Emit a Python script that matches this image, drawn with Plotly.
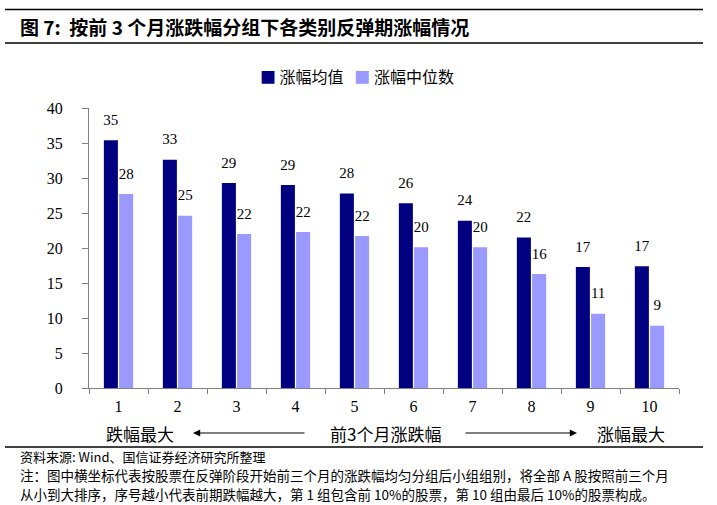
import plotly.graph_objects as go

categories = ["1", "2", "3", "4", "5", "6", "7", "8", "9", "10"]
mean_vals = [35.4, 32.6, 29.3, 29.0, 27.8, 26.4, 23.9, 21.5, 17.3, 17.4]
median_vals = [27.7, 24.6, 22.0, 22.3, 21.7, 20.1, 20.1, 16.3, 10.6, 8.9]
series_names = ["涨幅均值", "涨幅中位数"]
colors = ["#000080", "#9999FF"]
yticks = [0, 5, 10, 15, 20, 25, 30, 35, 40]

SERIF = "Liberation Serif, Times New Roman, serif"
CJK = "Noto Sans CJK SC, sans-serif"

fig = go.Figure()
for name, vals, col, grp in [(series_names[0], mean_vals, colors[0], "a"),
                             (series_names[1], median_vals, colors[1], "b")]:
    fig.add_trace(go.Bar(
        x=categories, y=vals, name=name, marker=dict(color=col, line=dict(width=0)),
        offsetgroup=grp, alignmentgroup="g", hoverinfo="skip", showlegend=False,
    ))
for vals, grp in [(mean_vals, "a"), (median_vals, "b")]:
    fig.add_trace(go.Scatter(
        x=categories, y=vals, mode="markers+text",
        text=[f"{v:.0f}" for v in vals], textposition="top center",
        textfont=dict(family=SERIF, size=15, color="#000000"),
        marker=dict(size=17, color="rgba(0,0,0,0)"),
        offsetgroup=grp, alignmentgroup="g", hoverinfo="skip", showlegend=False,
        cliponaxis=False,
    ))

L, R, T, B = 89, 38, 108, 117
W, H = 717, 505
pw, ph = W - L - R, H - T - B

def px(x):
    return (x - L) / pw

def py(y):
    return (H - B - y) / ph

fig.update_layout(
    width=W, height=H,
    margin=dict(l=L, r=R, t=T, b=B, pad=0),
    paper_bgcolor="white", plot_bgcolor="white",
    barmode="group", bargap=0.483, bargroupgap=0.08,
    scattermode="group", scattergap=0.483,
    xaxis=dict(
        type="category", showgrid=False, showline=True, linecolor="#808080", linewidth=1,
        ticks="outside", tickson="boundaries", ticklen=5, tickcolor="#808080",
        tickfont=dict(family=SERIF, size=16, color="#000000"), ticklabelstandoff=4,
    ),
    yaxis=dict(
        range=[0, 40], tickvals=yticks, showgrid=False, showline=True,
        linecolor="#808080", linewidth=1, ticks="outside", ticklen=6, tickcolor="#808080",
        tickfont=dict(family=SERIF, size=16, color="#000000"), ticklabelstandoff=16,
        zeroline=False,
    ),
    font=dict(family=CJK, color="#000000"),
)

shapes = []
for yv, wdt in [(9.5, 1.5), (43, 1.5), (447, 1.5)]:
    shapes.append(dict(type="line", xref="paper", yref="paper", x0=px(5), x1=px(703),
                       y0=py(yv), y1=py(yv), line=dict(color="#000000", width=wdt)))
fig.update_layout(shapes=shapes)

ann = []
ann.append(dict(text="<b>图 7:  按前 3 个月涨跌幅分组下各类别反弹期涨幅情况</b>", x=px(18), y=py(27),
                xref="paper", yref="paper", xanchor="left", yanchor="middle", showarrow=False,
                font=dict(family=CJK, size=19, color="#000000")))
legend_txt = (f"<span style='color:{colors[0]}'>■</span> {series_names[0]}   "
              f"<span style='color:{colors[1]}'>■</span> {series_names[1]}")
ann.append(dict(text=legend_txt, x=px(357), y=py(76), xref="paper", yref="paper",
                xanchor="center", yanchor="middle", showarrow=False,
                font=dict(family=CJK, size=16, color="#000000")))
for txt, xc in [("跌幅最大", 140), ("前3个月涨跌幅", 386), ("涨幅最大", 631)]:
    ann.append(dict(text=txt, x=px(xc), y=py(433), xref="paper", yref="paper",
                    xanchor="center", yanchor="middle", showarrow=False,
                    font=dict(family=CJK, size=17, color="#000000")))
for head, tail in [(193, 306), (577, 464)]:
    ann.append(dict(text="", x=px(head), y=py(433), xref="paper", yref="paper",
                    showarrow=True, arrowhead=2, arrowsize=1.2, arrowwidth=1.2,
                    arrowcolor="#000000", ax=tail - head, ay=0, axref="pixel", ayref="pixel",
                    standoff=0, startstandoff=0))
notes = [
    ("资料来源: Wind、国信证券经济研究所整理", 456, 13),
    ("注：图中横坐标代表按股票在反弹阶段开始前三个月的涨跌幅均匀分组后小组组别，将全部 A 股按照前三个月", 475, 13.5),
    ("从小到大排序，序号越小代表前期跌幅越大，第 1 组包含前 10%的股票，第 10 组由最后 10%的股票构成。", 494, 13.5),
]
for txt, yv, fs in notes:
    ann.append(dict(text=txt, x=px(18), y=py(yv), xref="paper", yref="paper",
                    xanchor="left", yanchor="middle", showarrow=False,
                    font=dict(family=CJK, size=fs, color="#000000")))
fig.update_layout(annotations=ann)

fig.write_html("out.html", config={"displayModeBar": False},
               post_script="document.body.style.margin='0px';document.body.style.overflow='hidden';")
